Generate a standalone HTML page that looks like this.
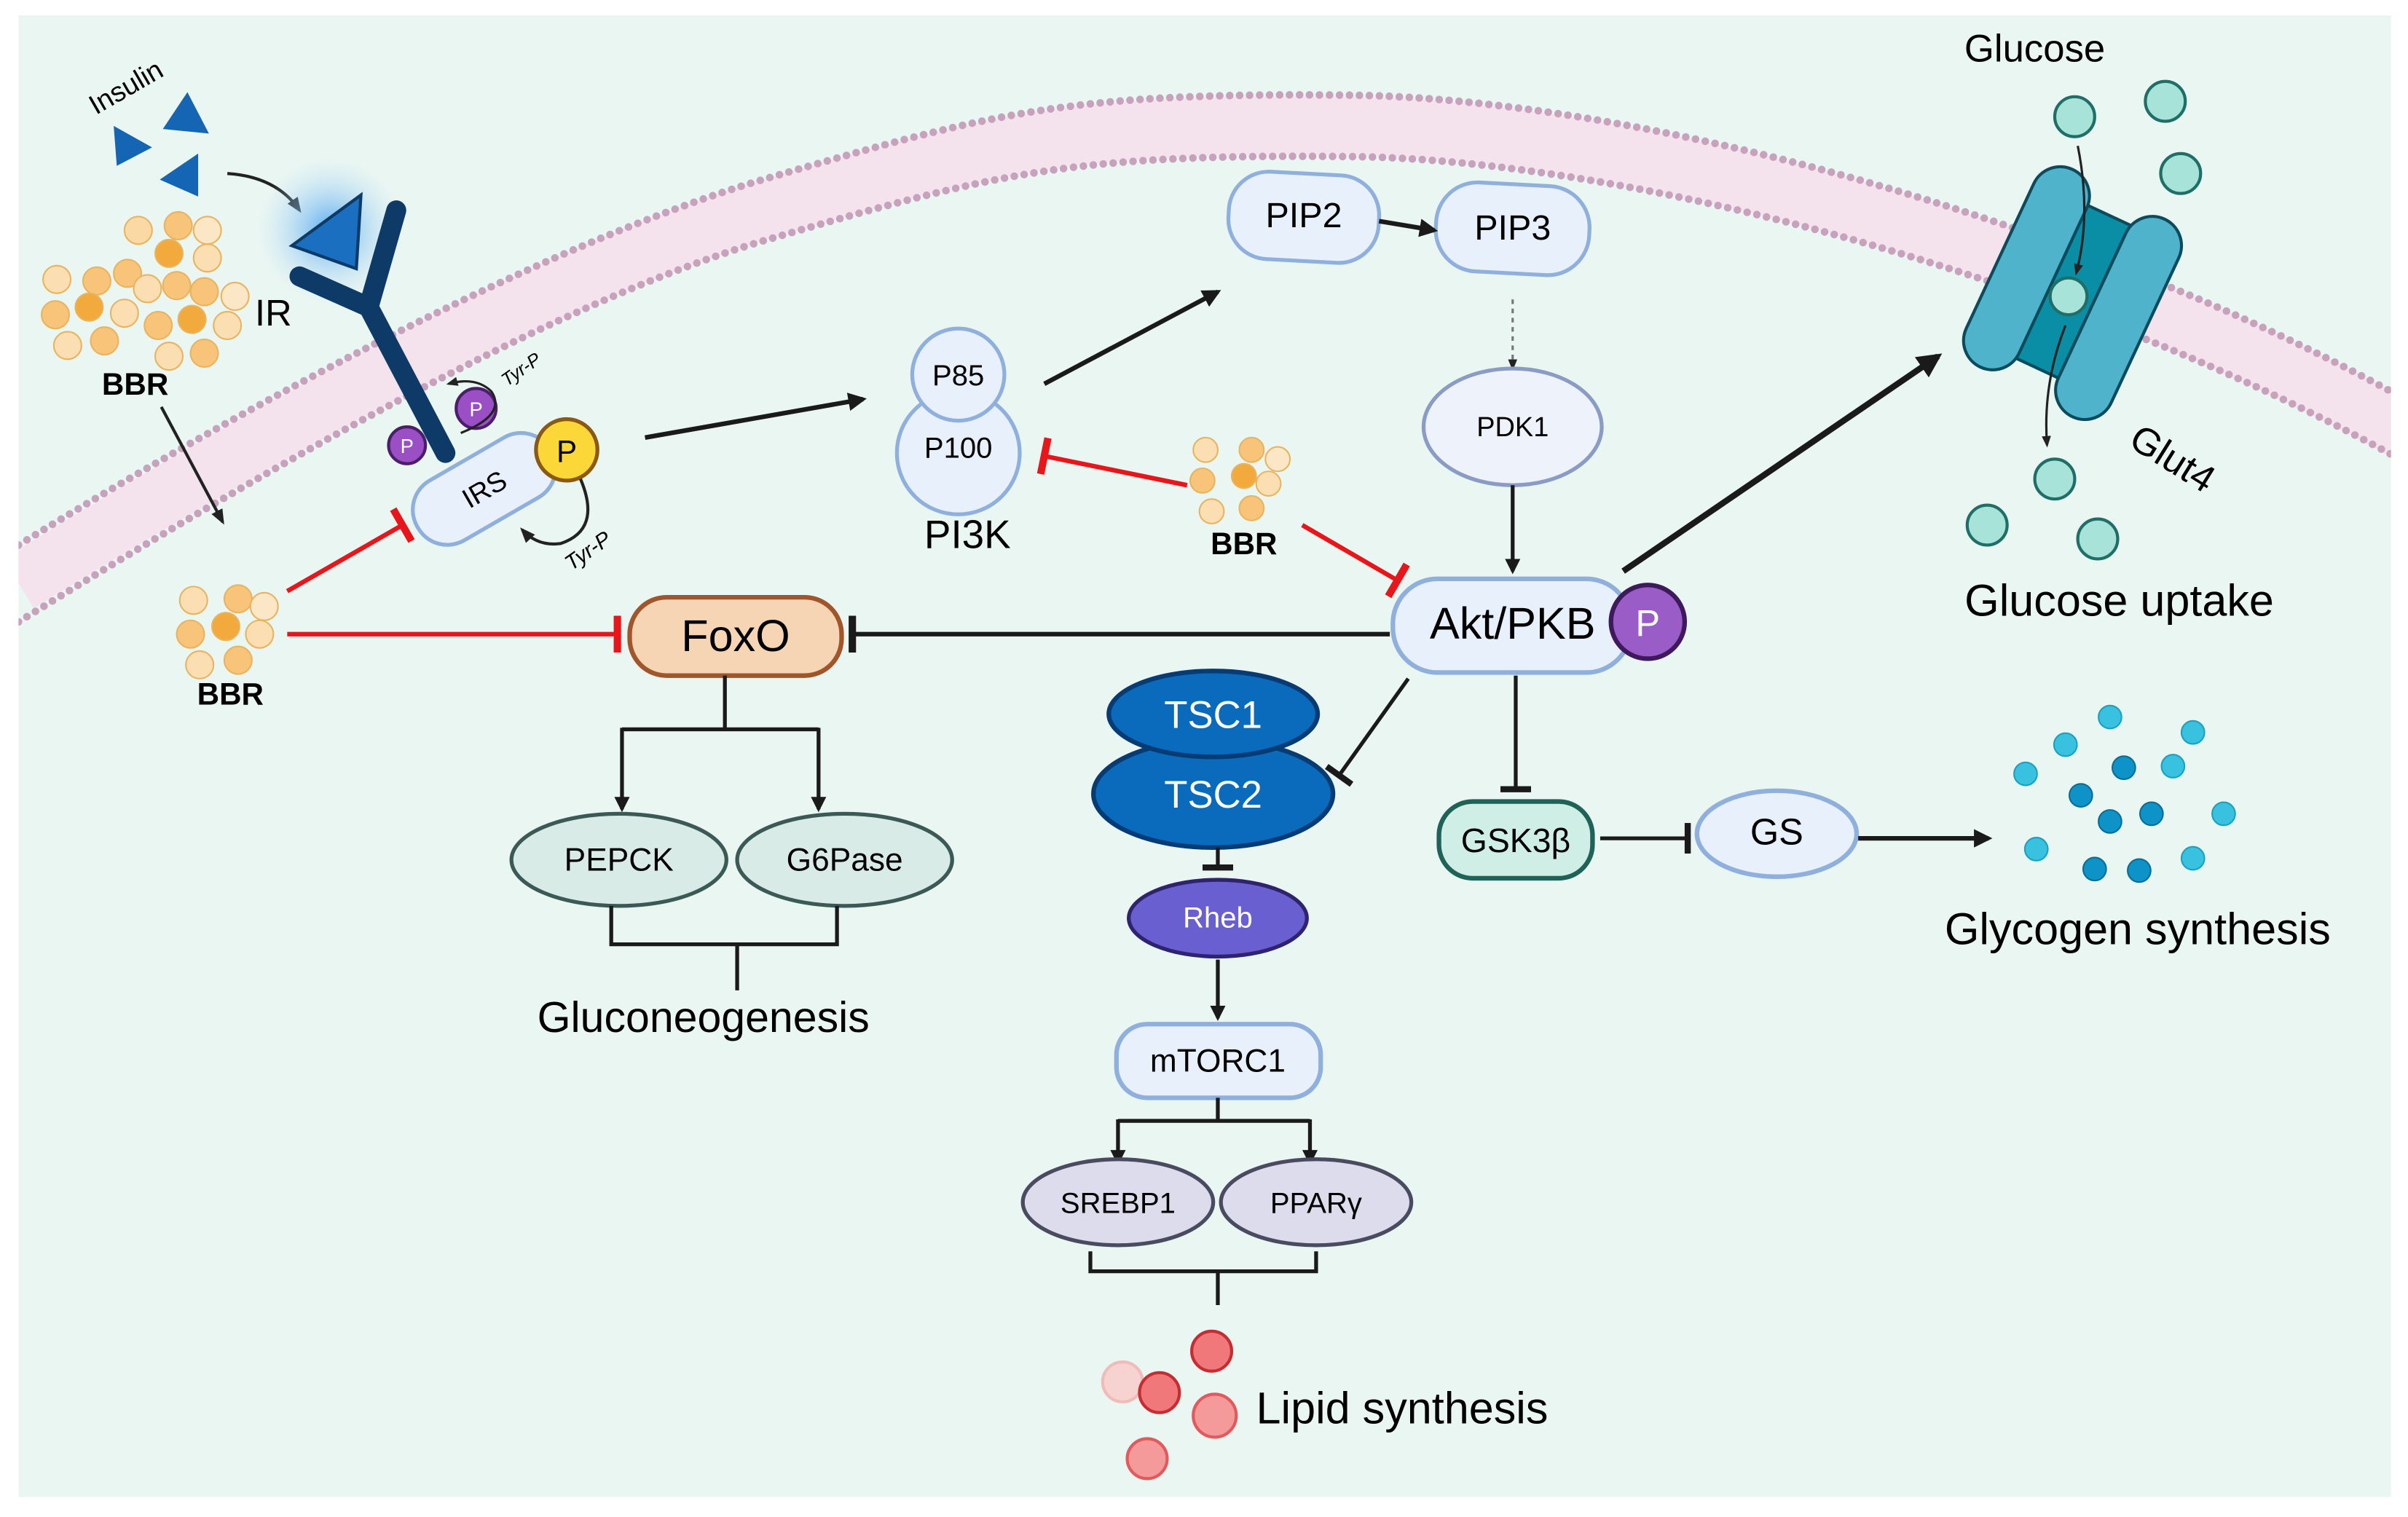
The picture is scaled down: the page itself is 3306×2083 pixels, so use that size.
<!DOCTYPE html>
<html><head><meta charset="utf-8"><style>
html,body{margin:0;padding:0;background:#fff}
svg{display:block}
text{font-family:"Liberation Sans",sans-serif}
</style></head><body>
<svg width="3306" height="2083" viewBox="0 0 1568 988" xmlns="http://www.w3.org/2000/svg">
<defs>
<marker id="ah" viewBox="0 0 10 10" refX="8" refY="5" markerWidth="4" markerHeight="4" orient="auto"><path d="M0,0L10,5L0,10z" fill="#1a1a1a"/></marker>
<marker id="ahs" viewBox="0 0 10 10" refX="8" refY="5" markerWidth="5" markerHeight="5" orient="auto"><path d="M0,1L10,5L0,9z" fill="#222"/></marker>
<marker id="tb" viewBox="0 0 4 20" refX="2" refY="10" markerWidth="2" markerHeight="8" orient="auto"><rect x="0" y="0" width="4" height="20" fill="#1a1a1a"/></marker>
<marker id="tr" viewBox="0 0 4 20" refX="2" refY="10" markerWidth="2" markerHeight="8" orient="auto"><rect x="0" y="0" width="4" height="20" fill="#e8161b"/></marker>
<radialGradient id="glow"><stop offset="0" stop-color="#4aa3f0" stop-opacity=".9"/><stop offset="1" stop-color="#bfe0f7" stop-opacity="0"/></radialGradient>
<clipPath id="panel"><rect x="12" y="10" width="1545" height="965"/></clipPath>
</defs>
<rect x="12" y="10" width="1545" height="965" fill="#eaf6f2"/>
<!-- membrane -->
<g clip-path="url(#panel)">
<path d="M12,380 C150,295 350,180 500,136 S700,80 880,82 S1350,160 1568,282" fill="none" stroke="#f4e2ec" stroke-width="38"/>
<path d="M12,355 C150,270 350,160 500,116 S700,60 880,62 S1350,140 1568,261" fill="none" stroke="#c8a2bd" stroke-width="5" stroke-linecap="round" stroke-dasharray="0 6.5"/>
<path d="M12,405 C150,320 350,200 500,156 S700,100 880,102 S1350,180 1568,302" fill="none" stroke="#c8a2bd" stroke-width="5" stroke-linecap="round" stroke-dasharray="0 6.5"/>
</g>
<!-- insulin -->
<text x="85" y="62" font-size="18" transform="rotate(-30 85 62)" text-anchor="middle">Insulin</text>
<path d="M74,82 L99,96 L76,108z" fill="#1565b5"/>
<path d="M122,60 L136,87 L106,84z" fill="#1565b5"/>
<path d="M129,100 L129,128 L104,117z" fill="#1565b5"/>
<path d="M148,113 Q180,115 195,137" fill="none" stroke="#222" stroke-width="2" marker-end="url(#ahs)"/>
<circle cx="215" cy="150" r="48" fill="url(#glow)"/>
<path d="M190,160 L235,127 L232,175z" fill="#1a6fc0" stroke="#0d3a66" stroke-width="2"/>
<path d="M195,180 L240,200 L258,137 M240,200 L290,295" fill="none" stroke="#0d3a66" stroke-width="13" stroke-linecap="round" stroke-linejoin="round"/>
<text x="166" y="212" font-size="24">IR</text>
<!-- BBR cluster 1 -->
<g stroke="#e8b460" stroke-width="1">
<circle cx="90" cy="150" r="9" fill="#fbd9a5"/><circle cx="116" cy="147" r="9" fill="#f7c47a"/><circle cx="135" cy="150" r="9" fill="#fbe6c6"/>
<circle cx="110" cy="165" r="9" fill="#f2aa3c"/><circle cx="135" cy="168" r="9" fill="#fbdfb2"/><circle cx="83" cy="178" r="9" fill="#f7c47a"/>
<circle cx="37" cy="182" r="9" fill="#fbdfb2"/><circle cx="63" cy="183" r="9" fill="#f7c47a"/><circle cx="96" cy="188" r="9" fill="#fbdfb2"/><circle cx="115" cy="186" r="9" fill="#f7c47a"/><circle cx="133" cy="190" r="9" fill="#f7c47a"/><circle cx="153" cy="193" r="9" fill="#fbe6c6"/>
<circle cx="36" cy="205" r="9" fill="#f7c47a"/><circle cx="58" cy="200" r="9" fill="#f2aa3c"/><circle cx="81" cy="204" r="9" fill="#fbdfb2"/><circle cx="103" cy="212" r="9" fill="#f7c47a"/><circle cx="125" cy="208" r="9" fill="#f2aa3c"/><circle cx="148" cy="212" r="9" fill="#fbdfb2"/>
<circle cx="44" cy="225" r="9" fill="#fbdfb2"/><circle cx="68" cy="222" r="9" fill="#f7c47a"/><circle cx="110" cy="232" r="9" fill="#fbdfb2"/><circle cx="133" cy="230" r="9" fill="#f7c47a"/>
</g>
<text x="88" y="257" font-size="20" font-weight="bold" text-anchor="middle">BBR</text>
<line x1="105" y1="265" x2="145" y2="340" stroke="#222" stroke-width="2" marker-end="url(#ahs)"/>
<!-- P and IRS -->
<circle cx="265" cy="290" r="12" fill="#9a4fc4" stroke="#4a1f6a" stroke-width="2"/><text x="265" y="295" font-size="13" fill="#fff" text-anchor="middle">P</text>
<circle cx="310" cy="266" r="13" fill="#9a4fc4" stroke="#4a1f6a" stroke-width="2"/><text x="310" y="271" font-size="13" fill="#fff" text-anchor="middle">P</text>
<path d="M300,282 Q330,270 320,255 Q310,245 292,250" fill="none" stroke="#222" stroke-width="1.5" marker-end="url(#ahs)"/>
<text x="330" y="252" font-size="12" font-style="italic" transform="rotate(-35 330 252)">Tyr-P</text>
<g transform="rotate(-30 315 318)"><rect x="265" y="296" width="100" height="45" rx="22" fill="#e7f0fb" stroke="#8fb0dd" stroke-width="2.5"/><text x="315" y="325" font-size="18" text-anchor="middle">IRS</text></g>
<circle cx="369" cy="293" r="20" fill="#fbd838" stroke="#8a5a12" stroke-width="2.5"/><text x="369" y="301" font-size="20" text-anchor="middle">P</text>
<path d="M378,312 Q392,345 365,354 Q350,356 340,345" fill="none" stroke="#222" stroke-width="2" marker-end="url(#ahs)"/>
<text x="372" y="372" font-size="14" font-style="italic" transform="rotate(-35 372 372)">Tyr-P</text>
<!-- BBR cluster 2 -->
<g stroke="#e8b460" stroke-width="1">
<circle cx="126" cy="391" r="9" fill="#fbdfb2"/><circle cx="155" cy="390" r="9" fill="#f7c47a"/><circle cx="172" cy="395" r="9" fill="#fbe6c6"/>
<circle cx="124" cy="413" r="9" fill="#f7c47a"/><circle cx="147" cy="408" r="9" fill="#f2aa3c"/><circle cx="169" cy="413" r="9" fill="#fbdfb2"/>
<circle cx="130" cy="433" r="9" fill="#fbdfb2"/><circle cx="155" cy="430" r="9" fill="#f7c47a"/>
</g>
<text x="150" y="459" font-size="20" font-weight="bold" text-anchor="middle">BBR</text>
<line x1="187" y1="385" x2="262" y2="342" stroke="#e8161b" stroke-width="3" marker-end="url(#tr)"/>
<line x1="187" y1="413" x2="402" y2="413" stroke="#e8161b" stroke-width="3" marker-end="url(#tr)"/>
<!-- FoxO -->
<line x1="905" y1="413" x2="555" y2="413" stroke="#1a1a1a" stroke-width="3" marker-end="url(#tb)"/>
<rect x="410" y="389" width="138" height="51" rx="24" fill="#f6d5b4" stroke="#a0562a" stroke-width="3"/>
<text x="479" y="424" font-size="29" text-anchor="middle">FoxO</text>
<path d="M472,440 V475 M405,475 H533" stroke="#1a1a1a" stroke-width="2.5" fill="none"/>
<line x1="405" y1="474" x2="405" y2="527" stroke="#1a1a1a" stroke-width="2.5" marker-end="url(#ah)"/>
<line x1="533" y1="474" x2="533" y2="527" stroke="#1a1a1a" stroke-width="2.5" marker-end="url(#ah)"/>
<ellipse cx="403" cy="560" rx="70" ry="30" fill="#d9ebe6" stroke="#3c5a55" stroke-width="2.5"/><text x="403" y="567" font-size="21" text-anchor="middle">PEPCK</text>
<ellipse cx="550" cy="560" rx="70" ry="30" fill="#d9ebe6" stroke="#3c5a55" stroke-width="2.5"/><text x="550" y="567" font-size="21" text-anchor="middle">G6Pase</text>
<path d="M398,590 V615 H545 V590 M480,615 V645" stroke="#1a1a1a" stroke-width="2.5" fill="none"/>
<text x="458" y="672" font-size="28" text-anchor="middle">Gluconeogenesis</text>
<!-- PI3K -->
<line x1="420" y1="285" x2="562" y2="260" stroke="#1a1a1a" stroke-width="3" marker-end="url(#ah)"/>
<circle cx="624" cy="295" r="40" fill="#e7f0fb" stroke="#8fb0dd" stroke-width="2.5"/>
<circle cx="624" cy="244" r="30" fill="#e7f0fb" stroke="#8fb0dd" stroke-width="2.5"/>
<text x="624" y="251" font-size="19" text-anchor="middle">P85</text>
<text x="624" y="298" font-size="19" text-anchor="middle">P100</text>
<text x="630" y="357" font-size="26" text-anchor="middle">PI3K</text>
<line x1="680" y1="250" x2="793" y2="190" stroke="#1a1a1a" stroke-width="3" marker-end="url(#ah)"/>
<!-- PIP -->
<rect x="800" y="113" width="98" height="57" rx="26" fill="#e7f0fb" stroke="#8fb0dd" stroke-width="2.5" transform="rotate(3 849 141)"/><text x="849" y="148" font-size="23" text-anchor="middle">PIP2</text>
<rect x="935" y="120" width="100" height="58" rx="27" fill="#e7f0fb" stroke="#8fb0dd" stroke-width="2.5" transform="rotate(3 985 149)"/><text x="985" y="156" font-size="23" text-anchor="middle">PIP3</text>
<line x1="898" y1="144" x2="934" y2="150" stroke="#1a1a1a" stroke-width="3" marker-end="url(#ah)"/>
<line x1="985" y1="195" x2="985" y2="240" stroke="#777" stroke-width="1.5" stroke-dasharray="3 3" marker-end="url(#ahs)"/>
<ellipse cx="985" cy="278" rx="58" ry="38" fill="#eef2fa" stroke="#8a9cc4" stroke-width="2.5"/><text x="985" y="284" font-size="18" text-anchor="middle">PDK1</text>
<line x1="985" y1="316" x2="985" y2="372" stroke="#1a1a1a" stroke-width="2.5" marker-end="url(#ah)"/>
<!-- BBR mid -->
<g stroke="#e8b460" stroke-width="1">
<circle cx="785" cy="293" r="8" fill="#fbdfb2"/><circle cx="815" cy="293" r="8" fill="#f7c47a"/><circle cx="832" cy="299" r="8" fill="#fbe6c6"/>
<circle cx="783" cy="313" r="8" fill="#f7c47a"/><circle cx="810" cy="310" r="8" fill="#f2aa3c"/><circle cx="826" cy="315" r="8" fill="#fbdfb2"/>
<circle cx="789" cy="333" r="8" fill="#fbdfb2"/><circle cx="815" cy="331" r="8" fill="#f7c47a"/>
</g>
<text x="810" y="361" font-size="20" font-weight="bold" text-anchor="middle">BBR</text>
<line x1="773" y1="316" x2="680" y2="297" stroke="#e8161b" stroke-width="3" marker-end="url(#tr)"/>
<line x1="848" y1="342" x2="910" y2="378" stroke="#e8161b" stroke-width="3" marker-end="url(#tr)"/>
<!-- Akt -->
<line x1="1057" y1="372" x2="1262" y2="232" stroke="#1a1a1a" stroke-width="4" marker-end="url(#ah)"/>
<rect x="907" y="377" width="155" height="61" rx="29" fill="#e7f0fb" stroke="#8fb0dd" stroke-width="3"/>
<text x="985" y="416" font-size="29" text-anchor="middle">Akt/PKB</text>
<circle cx="1073" cy="405" r="24" fill="#9a5cc6" stroke="#3e1a5c" stroke-width="3"/><text x="1073" y="414" font-size="24" fill="#fff" text-anchor="middle">P</text>
<!-- Glut4 -->
<g transform="rotate(25 1350 190)">
<rect x="1320" y="135" width="60" height="110" fill="#0a8ea6" stroke="#0b4b5c" stroke-width="2"/>
<rect x="1297" y="118" width="38" height="142" rx="19" fill="#4fb3cc" stroke="#0b4b5c" stroke-width="2"/>
<rect x="1365" y="122" width="38" height="142" rx="19" fill="#4fb3cc" stroke="#0b4b5c" stroke-width="2"/>
</g>
<g fill="#a8e3d9" stroke="#1f6f68" stroke-width="2">
<circle cx="1351" cy="76" r="13"/><circle cx="1410" cy="66" r="13"/><circle cx="1420" cy="113" r="13"/><circle cx="1347" cy="193" r="12"/>
<circle cx="1338" cy="312" r="13"/><circle cx="1294" cy="342" r="13"/><circle cx="1366" cy="351" r="13"/>
</g>
<path d="M1353,95 Q1362,140 1352,178" fill="none" stroke="#222" stroke-width="1.5" marker-end="url(#ahs)"/>
<path d="M1345,212 Q1330,250 1333,290" fill="none" stroke="#222" stroke-width="1.5" marker-end="url(#ahs)"/>
<text x="1325" y="40" font-size="25" text-anchor="middle">Glucose</text>
<text x="1385" y="290" font-size="25" transform="rotate(32 1385 290)">Glut4</text>
<text x="1380" y="401" font-size="29" text-anchor="middle">Glucose uptake</text>
<!-- TSC -->
<line x1="917" y1="442" x2="872" y2="505" stroke="#1a1a1a" stroke-width="2.5" marker-end="url(#tb)"/>
<ellipse cx="790" cy="517" rx="78" ry="35" fill="#0a6bbd" stroke="#073b73" stroke-width="3"/>
<ellipse cx="790" cy="465" rx="68" ry="28" fill="#0a6bbd" stroke="#073b73" stroke-width="3"/>
<text x="790" y="474" font-size="25" fill="#fff" text-anchor="middle">TSC1</text>
<text x="790" y="526" font-size="25" fill="#fff" text-anchor="middle">TSC2</text>
<line x1="793" y1="552" x2="793" y2="565" stroke="#1a1a1a" stroke-width="2.5" marker-end="url(#tb)"/>
<ellipse cx="793" cy="598" rx="58" ry="25" fill="#6a5fd0" stroke="#2f2370" stroke-width="2.5"/><text x="793" y="604" font-size="19" fill="#fff" text-anchor="middle">Rheb</text>
<line x1="793" y1="625" x2="793" y2="663" stroke="#1a1a1a" stroke-width="2.5" marker-end="url(#ah)"/>
<rect x="727" y="667" width="133" height="48" rx="20" fill="#e7f0fb" stroke="#8fb0dd" stroke-width="3"/><text x="793" y="698" font-size="21" text-anchor="middle">mTORC1</text>
<path d="M793,715 V730 M728,730 H853" stroke="#1a1a1a" stroke-width="2.5" fill="none"/>
<line x1="728" y1="729" x2="728" y2="757" stroke="#1a1a1a" stroke-width="2.5" marker-end="url(#ah)"/>
<line x1="853" y1="729" x2="853" y2="757" stroke="#1a1a1a" stroke-width="2.5" marker-end="url(#ah)"/>
<ellipse cx="728" cy="783" rx="62" ry="28" fill="#dcdcec" stroke="#4a4a60" stroke-width="2.5"/><text x="728" y="790" font-size="19" text-anchor="middle">SREBP1</text>
<ellipse cx="857" cy="783" rx="62" ry="28" fill="#dcdcec" stroke="#4a4a60" stroke-width="2.5"/><text x="857" y="790" font-size="19" text-anchor="middle">PPARγ</text>
<path d="M710,815 V828 H857 V815 M793,828 V850" stroke="#1a1a1a" stroke-width="2.5" fill="none"/>
<circle cx="731" cy="900" r="13" fill="#f6d3d0" stroke="#f0bcb7" stroke-width="2"/>
<g fill="#f0787a" stroke="#c52d32" stroke-width="2"><circle cx="789" cy="880" r="13"/><circle cx="755" cy="907" r="13"/></g>
<g fill="#f59a9a" stroke="#e05a5e" stroke-width="2"><circle cx="791" cy="922" r="14"/><circle cx="747" cy="950" r="13"/></g>
<text x="913" y="927" font-size="29" text-anchor="middle">Lipid synthesis</text>
<!-- GSK / GS -->
<line x1="987" y1="440" x2="987" y2="514" stroke="#1a1a1a" stroke-width="2.5" marker-end="url(#tb)"/>
<rect x="937" y="522" width="100" height="50" rx="22" fill="#cfeee6" stroke="#1f6258" stroke-width="3"/><text x="987" y="555" font-size="22" text-anchor="middle">GSK3β</text>
<line x1="1042" y1="546" x2="1099" y2="546" stroke="#1a1a1a" stroke-width="2.5" marker-end="url(#tb)"/>
<ellipse cx="1157" cy="543" rx="52" ry="28" fill="#e7f0fb" stroke="#8fb0dd" stroke-width="3"/><text x="1157" y="550" font-size="24" text-anchor="middle">GS</text>
<line x1="1210" y1="546" x2="1295" y2="546" stroke="#1a1a1a" stroke-width="3" marker-end="url(#ah)"/>
<g fill="#39c2e0" stroke="#1aa0c0" stroke-width="1">
<circle cx="1374" cy="467" r="7.5"/><circle cx="1428" cy="477" r="7.5"/><circle cx="1345" cy="485" r="7.5"/><circle cx="1319" cy="504" r="7.5"/><circle cx="1415" cy="499" r="7.5"/><circle cx="1448" cy="530" r="7.5"/><circle cx="1326" cy="553" r="7.5"/><circle cx="1428" cy="559" r="7.5"/>
</g>
<g fill="#0d93c8" stroke="#0a6d96" stroke-width="1">
<circle cx="1383" cy="500" r="7.5"/><circle cx="1355" cy="518" r="7.5"/><circle cx="1374" cy="535" r="7.5"/><circle cx="1401" cy="530" r="7.5"/><circle cx="1364" cy="566" r="7.5"/><circle cx="1393" cy="567" r="7.5"/>
</g>
<text x="1392" y="615" font-size="29" text-anchor="middle">Glycogen synthesis</text>
</svg>
</body></html>
